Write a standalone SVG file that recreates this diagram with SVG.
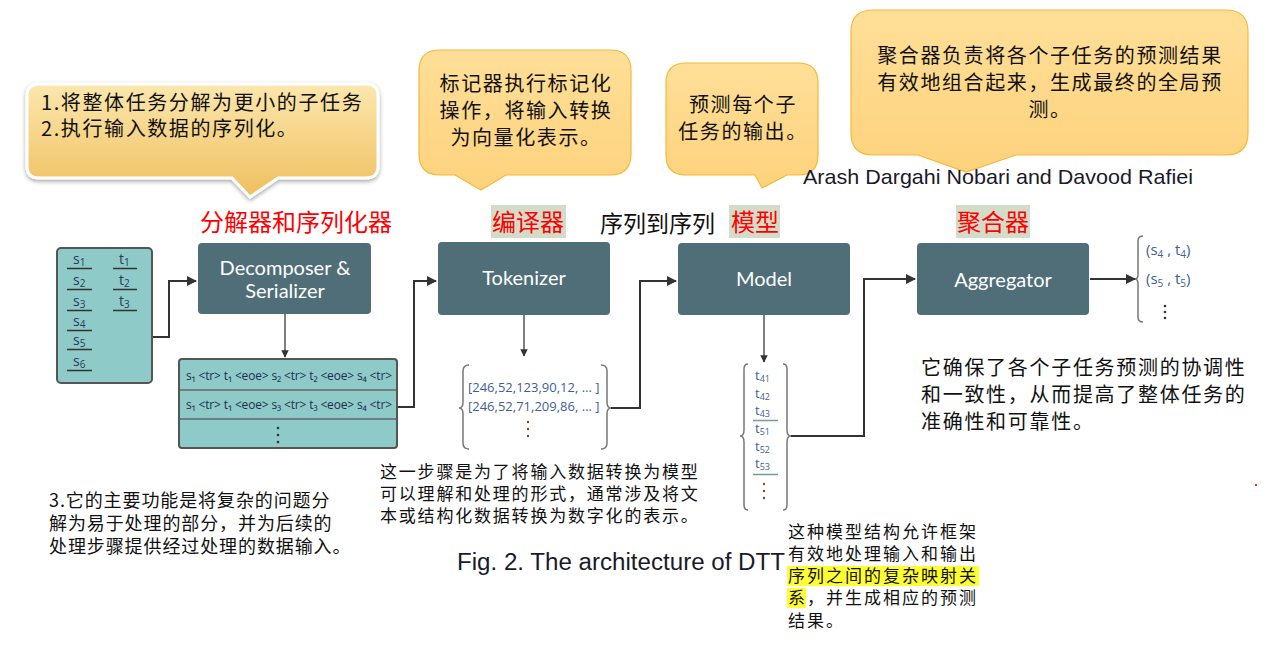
<svg xmlns="http://www.w3.org/2000/svg" width="1271" height="650" viewBox="0 0 1271 650">
<defs>
<linearGradient id="g1" x1="0" y1="0" x2="0" y2="1"><stop offset="0" stop-color="#fce7ae"/><stop offset="1" stop-color="#efbf5e"/></linearGradient>
<linearGradient id="g2" x1="0" y1="0" x2="0" y2="1"><stop offset="0" stop-color="#ffdf98"/><stop offset="1" stop-color="#fdd27c"/></linearGradient>
<filter id="sh" x="-10%" y="-10%" width="120%" height="130%"><feDropShadow dx="0" dy="2" stdDeviation="2" flood-color="#000" flood-opacity="0.35"/></filter>
<marker id="ah" viewBox="0 0 10 10" refX="9" refY="5" markerWidth="5" markerHeight="5" orient="auto"><path d="M0,0 L10,5 L0,10 z" fill="#333"/></marker>
</defs>
<style>
.box{fill:#4f6e78;}
.bt{fill:#fff;font-family:"Lato","Open Sans",sans-serif;font-size:20px;text-anchor:middle;}
.tb{fill:#8ecbc8;stroke:#555;stroke-width:2;}
.sm{fill:#2a3a5a;font-family:"Open Sans","Noto Sans",sans-serif;}
.ul{stroke:#333;stroke-width:1.5;}
.con{fill:none;stroke:#333;stroke-width:2;}
.br{fill:none;stroke:#777;stroke-width:1.5;}
.red{fill:#f00;font-family:"Noto Sans CJK SC",sans-serif;font-size:24px;}
.lab{fill:#d3dcc9;}
.cn{fill:#111;font-family:"Noto Sans CJK SC",sans-serif;}
.cb{fill:#111;font-family:"Noto Sans CJK SC",sans-serif;font-size:20px;letter-spacing:1.6px;}
.bub{fill:url(#g2);stroke:#f4b83a;stroke-width:1.2;}
.num{fill:#3f5f94;font-family:"Open Sans","Noto Sans",sans-serif;}
.dot{fill:#7a4a2a;}
</style>

<!-- callouts -->
<g id="callout1">
<path d="M40,84 H366 Q378,84 378,96 V166 Q378,178 366,178 H278 L250,197 L232,178 H39 Q27,178 27,166 V96 Q27,84 40,84 Z" fill="url(#g1)" stroke="#fff" stroke-width="3" filter="url(#sh)"/>
<text class="cb" x="41" y="110">1.将整体任务分解为更小的子任务</text>
<text class="cb" x="41" y="136">2.执行输入数据的序列化。</text>
</g>
<g id="callout2">
<path d="M440,50 H610 Q631,50 631,71 V154 Q631,175 610,175 H506 L481,190 L455,175 H440 Q419,175 419,154 V71 Q419,50 440,50 Z" class="bub"/>
<text class="cb" x="526" y="91" text-anchor="middle">标记器执行标记化</text>
<text class="cb" x="526" y="118" text-anchor="middle">操作，将输入转换</text>
<text class="cb" x="526" y="145" text-anchor="middle">为向量化表示。</text>
</g>
<g id="callout3">
<path d="M686,63 H798 Q818,63 818,83 V155 Q818,175 798,175 H787 L762,188 L755,175 H686 Q666,175 666,155 V83 Q666,63 686,63 Z" class="bub"/>
<text class="cb" x="743" y="112" text-anchor="middle">预测每个子</text>
<text class="cb" x="743" y="139" text-anchor="middle">任务的输出。</text>
</g>
<g id="callout4">
<path d="M873,10 H1226 Q1248,10 1248,32 V133 Q1248,155 1226,155 H1016 L966,172 L918,155 H873 Q851,155 851,133 V32 Q851,10 873,10 Z" class="bub"/>
<text class="cb" x="1050" y="63" text-anchor="middle">聚合器负责将各个子任务的预测结果</text>
<text class="cb" x="1050" y="90" text-anchor="middle">有效地组合起来，生成最终的全局预</text>
<text class="cb" x="1050" y="117" text-anchor="middle">测。</text>
</g>

<text x="803" y="184" fill="#1a1a2a" font-family="'Liberation Sans',sans-serif" font-size="21" textLength="390" lengthAdjust="spacingAndGlyphs">Arash Dargahi Nobari and Davood Rafiei</text>

<!-- stage labels -->
<g id="labels">
<text class="red" x="200" y="231">分解器和序列化器</text>
<rect class="lab" x="491" y="205" width="75" height="33"/>
<text class="red" x="492" y="231">编译器</text>
<text class="cn" x="600" y="232" style="font-size:23px">序列到序列</text>
<rect class="lab" x="729" y="205" width="51" height="33"/>
<text class="red" x="731" y="231">模型</text>
<rect class="lab" x="956" y="205" width="74" height="33"/>
<text class="red" x="957" y="231">聚合器</text>
</g>

<!-- input table -->
<g id="input">
<rect class="tb" x="57" y="248" width="95" height="135" rx="4"/>
<g class="sm" style="font-size:14px">
<text x="73" y="264">s<tspan font-size="10" dy="2">1</tspan></text>
<text x="73" y="285">s<tspan font-size="10" dy="2">2</tspan></text>
<text x="73" y="306">s<tspan font-size="10" dy="2">3</tspan></text>
<text x="73" y="326">s<tspan font-size="10" dy="2">4</tspan></text>
<text x="73" y="345">s<tspan font-size="10" dy="2">5</tspan></text>
<text x="73" y="366">s<tspan font-size="10" dy="2">6</tspan></text>
<text x="119" y="264">t<tspan font-size="10" dy="2">1</tspan></text>
<text x="119" y="285">t<tspan font-size="10" dy="2">2</tspan></text>
<text x="119" y="306">t<tspan font-size="10" dy="2">3</tspan></text>
</g>
<path class="ul" d="M67,268.5H92M67,289.5H92M67,310.5H92M67,330.5H92M67,349.5H92M67,370.5H92M113,268.5H137M113,289.5H137M113,310.5H137"/>
</g>

<g id="decomposer"><rect class="box" x="198" y="243" width="173" height="71" rx="4"/>
<text class="bt" x="285" y="275">Decomposer &amp;</text><text class="bt" x="285" y="298">Serializer</text></g>

<g id="serialized">
<rect class="tb" x="179" y="359" width="218" height="89" rx="3"/>
<path d="M180,390H396M180,419H396" stroke="#666" stroke-width="1.5"/>
<text class="sm" x="186" y="380" style="font-size:12px;fill:#1e2e4e" textLength="206">s₁ &lt;tr&gt; t₁ &lt;eoe&gt; s₂ &lt;tr&gt; t₂ &lt;eoe&gt; s₄ &lt;tr&gt;</text>
<text class="sm" x="186" y="409" style="font-size:12px;fill:#1e2e4e" textLength="206">s₁ &lt;tr&gt; t₁ &lt;eoe&gt; s₃ &lt;tr&gt; t₃ &lt;eoe&gt; s₄ &lt;tr&gt;</text>
<circle cx="278" cy="428" r="1.3" fill="#333"/><circle cx="278" cy="435" r="1.3" fill="#333"/><circle cx="278" cy="442" r="1.3" fill="#333"/>
</g>

<g id="tokenizer"><rect class="box" x="438" y="242" width="172" height="73" rx="4"/>
<text class="bt" x="524" y="285">Tokenizer</text></g>

<g id="vectors">
<path class="br" d="M469,365 Q463,365 463,371 V402 Q463,408 459,408 Q463,408 463,414 V443 Q463,449 469,449"/>
<path class="br" d="M601,365 Q607,365 607,371 V402 Q607,408 611,408 Q607,408 607,414 V443 Q607,449 601,449"/>
<text class="num" x="468" y="392" style="font-size:13px">[246,52,123,90,12, … ]</text>
<text class="num" x="468" y="411" style="font-size:13px">[246,52,71,209,86, … ]</text>
<circle class="dot" cx="528" cy="422" r="1.2"/><circle class="dot" cx="528" cy="429" r="1.2"/><circle class="dot" cx="528" cy="436" r="1.2"/>
</g>

<g id="model"><rect class="box" x="678" y="243" width="172" height="72" rx="4"/>
<text class="bt" x="764" y="286">Model</text></g>

<g id="outputs">
<path class="br" d="M748,364 Q744,364 744,369 V430 Q744,436 740,436 Q744,436 744,442 V505 Q744,510 748,510"/>
<path class="br" d="M783,364 Q787,364 787,369 V430 Q787,436 791,436 Q787,436 787,442 V505 Q787,510 783,510"/>
<g class="num" style="font-size:13px">
<text x="755" y="380">t<tspan font-size="9" dy="2">41</tspan></text>
<text x="755" y="398">t<tspan font-size="9" dy="2">42</tspan></text>
<text x="755" y="415">t<tspan font-size="9" dy="2">43</tspan></text>
<text x="755" y="433">t<tspan font-size="9" dy="2">51</tspan></text>
<text x="755" y="451">t<tspan font-size="9" dy="2">52</tspan></text>
<text x="755" y="468">t<tspan font-size="9" dy="2">53</tspan></text>
</g>
<path d="M753,420.5H778M753,474.5H778" stroke="#7a9a9a" stroke-width="1.5"/>
<circle class="dot" cx="764" cy="484" r="1.2"/><circle class="dot" cx="764" cy="491" r="1.2"/><circle class="dot" cx="764" cy="498" r="1.2"/>
</g>

<g id="aggregator"><rect class="box" x="917" y="243" width="172" height="72" rx="4"/>
<text class="bt" x="1003" y="287">Aggregator</text></g>

<g id="results">
<path class="br" d="M1143,236 Q1138,236 1138,241 V274 Q1138,279 1135,279 Q1138,279 1138,284 V317 Q1138,322 1143,322"/>
<g class="num" style="font-size:15px">
<text x="1146" y="255">(s<tspan font-size="10" dy="3">4</tspan><tspan dy="-3"> , t</tspan><tspan font-size="10" dy="3">4</tspan><tspan dy="-3">)</tspan></text>
<text x="1146" y="284">(s<tspan font-size="10" dy="3">5</tspan><tspan dy="-3"> , t</tspan><tspan font-size="10" dy="3">5</tspan><tspan dy="-3">)</tspan></text>
</g>
<circle cx="1165" cy="306" r="1.3" fill="#333"/><circle cx="1165" cy="312" r="1.3" fill="#333"/><circle cx="1165" cy="318" r="1.3" fill="#333"/>
</g>

<!-- connectors -->
<g id="connectors">
<path class="con" d="M153,337 H169 V281 H196" marker-end="url(#ah)"/>
<path class="con" d="M285,314 V357" style="stroke:#555;stroke-width:1.5" marker-end="url(#ah)"/>
<path class="con" d="M398,407 H414 V281 H436" marker-end="url(#ah)"/>
<path class="con" d="M524,315 V356" style="stroke:#555;stroke-width:1.5" marker-end="url(#ah)"/>
<path class="con" d="M611,408 H640 V281 H676" marker-end="url(#ah)"/>
<path class="con" d="M764,315 V362" style="stroke:#555;stroke-width:1.5" marker-end="url(#ah)"/>
<path class="con" d="M791,436 H864 V279 H915" marker-end="url(#ah)"/>
<path class="con" d="M1090,279 H1135" marker-end="url(#ah)"/>
</g>

<!-- annotations -->
<g id="notes">
<text class="cn" x="49" y="507" style="font-size:18px" letter-spacing="0.9">3.它的主要功能是将复杂的问题分</text>
<text class="cn" x="49" y="530" style="font-size:18px" letter-spacing="0.9">解为易于处理的部分，并为后续的</text>
<text class="cn" x="49" y="553" style="font-size:18px" letter-spacing="0.9">处理步骤提供经过处理的数据输入。</text>
<text class="cn" x="380" y="478" style="font-size:17px" letter-spacing="1.8">这一步骤是为了将输入数据转换为模型</text>
<text class="cn" x="380" y="500" style="font-size:17px" letter-spacing="1.8">可以理解和处理的形式，通常涉及将文</text>
<text class="cn" x="380" y="522" style="font-size:17px" letter-spacing="1.8">本或结构化数据转换为数字化的表示。</text>
<rect x="787" y="566" width="192" height="20" fill="#ffff33"/>
<rect x="787" y="588" width="19" height="20" fill="#ffff33"/>
<text class="cn" x="788" y="538" style="font-size:17px" letter-spacing="2">这种模型结构允许框架</text>
<text class="cn" x="788" y="560" style="font-size:17px" letter-spacing="2">有效地处理输入和输出</text>
<text class="cn" x="788" y="582" style="font-size:17px" letter-spacing="2">序列之间的复杂映射关</text>
<text class="cn" x="788" y="604" style="font-size:17px" letter-spacing="2">系，并生成相应的预测</text>
<text class="cn" x="788" y="627" style="font-size:17px" letter-spacing="2">结果。</text>
<text class="cn" x="921" y="375" style="font-size:20px" letter-spacing="1.7">它确保了各个子任务预测的协调性</text>
<text class="cn" x="921" y="402" style="font-size:20px" letter-spacing="1.7">和一致性，从而提高了整体任务的</text>
<text class="cn" x="921" y="429" style="font-size:20px" letter-spacing="1.7">准确性和可靠性。</text>
</g>

<text x="457" y="570" fill="#1a1a2a" font-family="'Liberation Sans',sans-serif" font-size="23" textLength="328" lengthAdjust="spacingAndGlyphs">Fig. 2.  The architecture of DTT</text>
<rect x="1255" y="484" width="2" height="2" fill="#e33"/>
</svg>
